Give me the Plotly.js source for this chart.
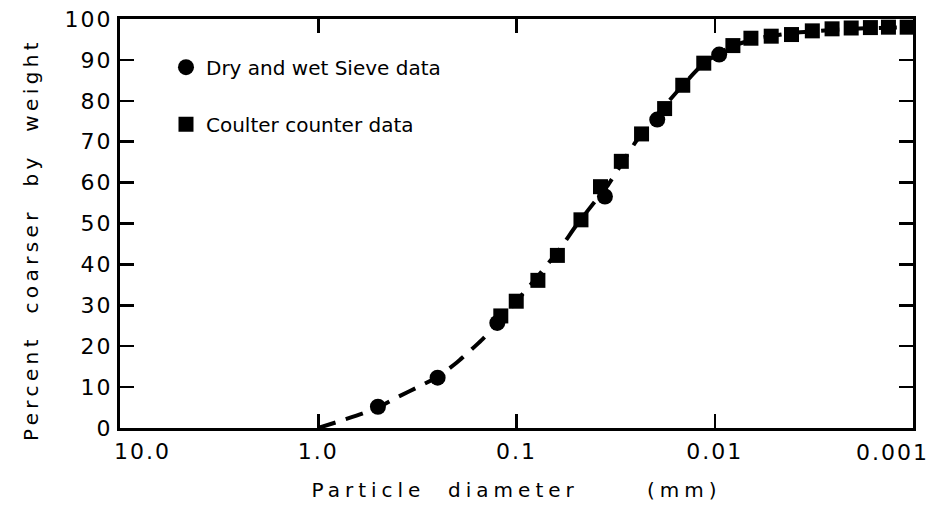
<!DOCTYPE html>
<html>
<head>
<meta charset="utf-8">
<script src="https://cdn.plot.ly/plotly-3.0.1.min.js"></script>
<style>html,body{margin:0;padding:0;background:#fff;}</style>
</head>
<body>
<div id="chart" style="width:939px;height:511px;"></div>
<script>
// Dry and wet sieve data (particle diameter mm, percent coarser)
const sieveD = [0.5, 0.25, 0.125, 0.0358, 0.0195, 0.0095];
const sieveY = [5.2, 12.3, 25.7, 56.6, 75.4, 91.3];

// Coulter counter data
const coulterD = [0.120, 0.1003, 0.078, 0.0622, 0.0473, 0.0377, 0.0296, 0.0234, 0.0179, 0.0145, 0.01136, 0.0081, 0.00657, 0.00519, 0.0041, 0.00322, 0.00256, 0.00205, 0.00164, 0.00133, 0.00107];
const coulterY = [27.4, 31.0, 36.1, 42.2, 50.9, 59.0, 65.2, 71.9, 78.1, 83.8, 89.2, 93.5, 95.3, 95.8, 96.2, 97.1, 97.6, 97.8, 97.9, 98.0, 98.0];

// Fitted dashed curve
const curveD = [1.0, 0.8, 0.6, 0.5, 0.4, 0.3, 0.25, 0.2, 0.15, 0.125, 0.1, 0.08, 0.06, 0.05, 0.04, 0.035, 0.03, 0.025, 0.02, 0.015, 0.012, 0.01, 0.008, 0.006, 0.004, 0.003, 0.002, 0.0015, 0.001];
const curveY = [0, 1.5, 3.5, 5, 7.5, 10.5, 12.5, 16, 21.5, 25.5, 31, 36.5, 44, 49.5, 55.5, 59, 64, 70, 76, 83, 88, 91, 93.5, 95.3, 96.6, 97.1, 97.6, 97.8, 98];

// Axis ticks (the last label is drawn as an annotation, right-aligned at the axis end)
const xTickVals = [10, 1, 0.1, 0.01, 0.0010001];
const xTickText = ['\u00a0\u00a0\u00a0\u00a0\u00a010.0', '1.0', '0.1', '0.01', ''];
const xEndLabel = '0.001';
const xEndValue = 0.001;
const yTickVals = [0, 10, 20, 30, 40, 50, 60, 70, 80, 90, 100];

const FONT = 'DejaVu Sans, sans-serif';

const traces = [
  {
    x: curveD, y: curveY, type: 'scatter', mode: 'lines',
    line: {color: '#000', width: 4, dash: '18px,11px', shape: 'spline', smoothing: 0.6},
    showlegend: false, hoverinfo: 'skip', cliponaxis: true
  },
  {
    x: sieveD, y: sieveY, type: 'scatter', mode: 'markers',
    name: 'Dry and wet Sieve data', legendgroup: 'a',
    marker: {symbol: 'circle', size: 16, color: '#000'}
  },
  {
    x: coulterD, y: coulterY, type: 'scatter', mode: 'markers',
    name: 'Coulter counter data', legendgroup: 'b',
    marker: {symbol: 'square', size: 15, color: '#000'}
  }
];

const layout = {
  width: 939, height: 511,
  margin: {l: 120, r: 26, t: 19, b: 83},
  paper_bgcolor: '#fff', plot_bgcolor: '#fff',
  font: {family: FONT, color: '#000', size: 20},
  showlegend: true,
  legend: {
    x: 0.058, y: 0.93, xanchor: 'left', yanchor: 'top',
    bgcolor: 'rgba(0,0,0,0)', borderwidth: 0,
    font: {family: FONT, size: 20, color: '#000'},
    tracegroupgap: 28, itemwidth: 30
  },
  annotations: [{
    x: Math.log10(xEndValue), xref: 'x', y: 0, yref: 'paper',
    text: xEndLabel, showarrow: false,
    xanchor: 'right', yanchor: 'top', xshift: 13, yshift: -10,
    font: {family: FONT, size: 22, color: '#000'}
  }],
  xaxis: {
    type: 'log', range: [1, -3], autorange: false,
    tickmode: 'array', tickvals: xTickVals, ticktext: xTickText,
    ticks: 'inside', ticklen: 14, tickwidth: 2.5, tickcolor: '#000',
    showline: true, linewidth: 3, linecolor: '#000', mirror: 'ticks',
    showgrid: false, zeroline: false,
    tickfont: {family: FONT, size: 22, color: '#000'},
    ticklabelstandoff: 2,
    title: {text: 'Particle\u00a0\u00a0diameter\u00a0\u00a0\u00a0\u00a0\u00a0\u00a0(mm)', font: {family: FONT, size: 20, color: '#000'}, standoff: 20},
    automargin: false
  },
  yaxis: {
    range: [0, 100], autorange: false,
    tickmode: 'array', tickvals: yTickVals,
    ticks: 'inside', ticklen: 14, tickwidth: 2.5, tickcolor: '#000',
    showline: true, linewidth: 3, linecolor: '#000', mirror: 'ticks',
    showgrid: false, zeroline: false,
    tickfont: {family: FONT, size: 22, color: '#000'},
    title: {text: 'Percent\u00a0\u00a0coarser\u00a0\u00a0by\u00a0\u00a0weight', font: {family: FONT, size: 20, color: '#000'}, standoff: 27},
    automargin: false
  }
};

Plotly.newPlot('chart', traces, layout, {staticPlot: true, displayModeBar: false}).then(function (gd) {
  gd.querySelectorAll('.xtitle').forEach(function (t) { t.style.letterSpacing = '5px'; });
  gd.querySelectorAll('.ytitle').forEach(function (t) {
    t.style.letterSpacing = '4.4px';
    var tr = t.getAttribute('transform') || '';
    t.setAttribute('transform', 'translate(0,16) ' + tr);
  });
  gd.querySelectorAll('.xtick text, .ytick text, .annotation-text').forEach(function (t) { t.style.letterSpacing = '2px'; });
});
</script>
</body>
</html>
